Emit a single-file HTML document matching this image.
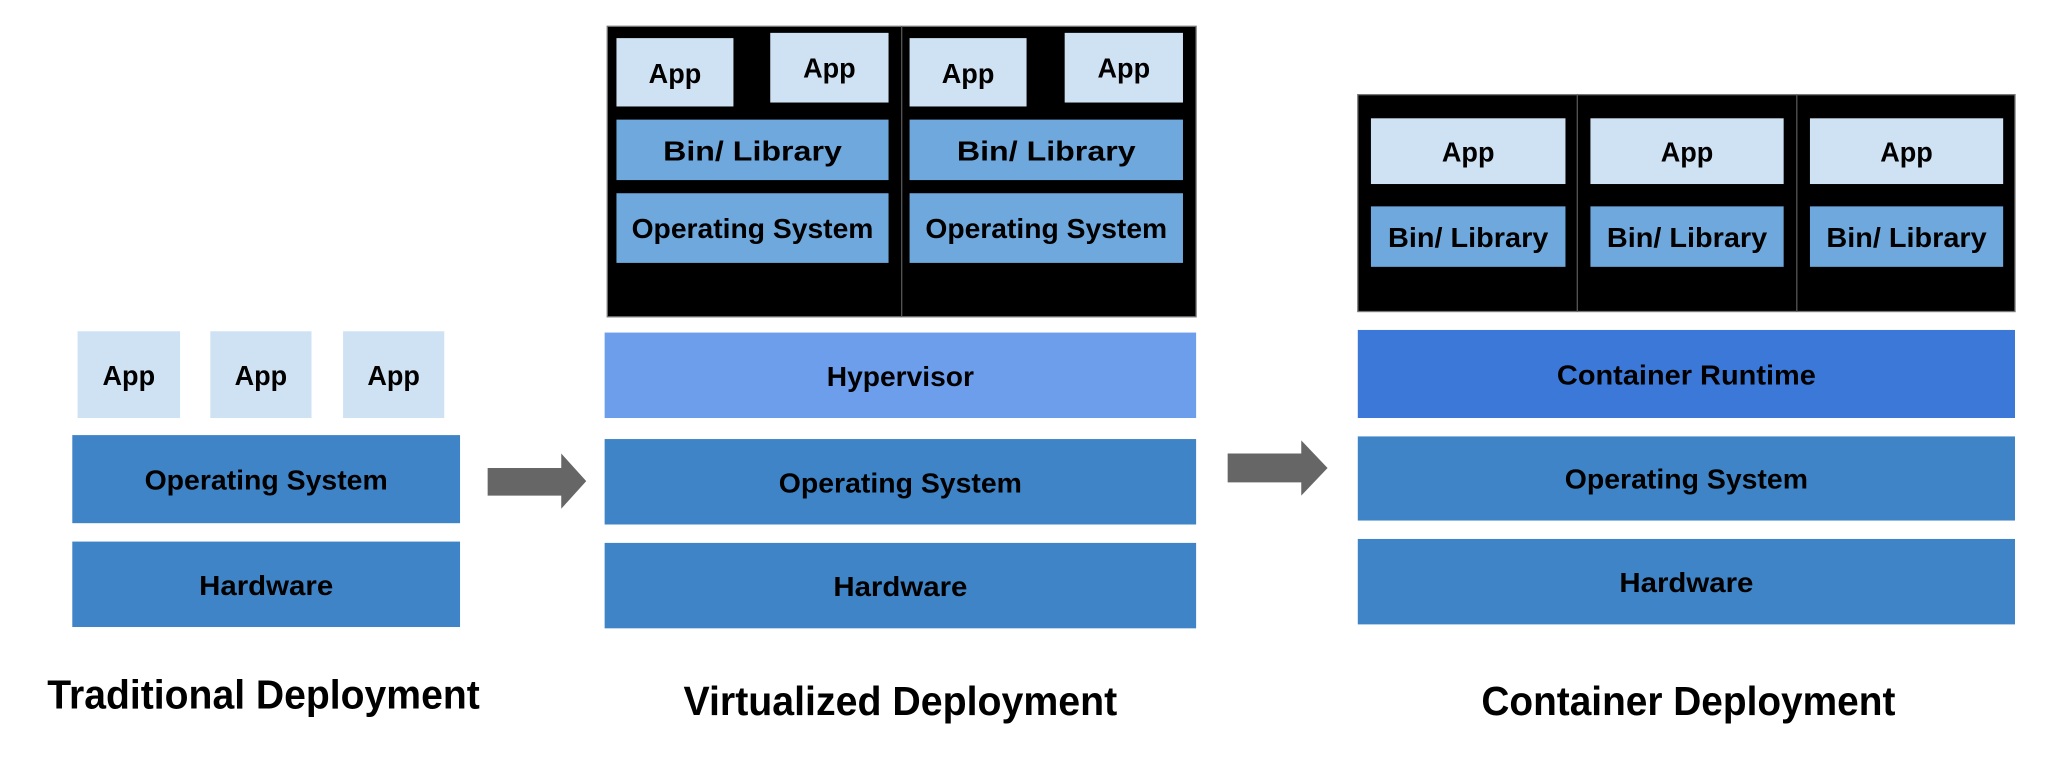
<!DOCTYPE html>
<html><head><meta charset="utf-8"><style>
html,body{margin:0;padding:0;background:#fff;}
svg{display:block;}
text{font-family:"Liberation Sans",sans-serif;font-weight:bold;fill:#000;}
</style></head><body>
<svg width="2061" height="759" viewBox="0 0 1568 577.4" preserveAspectRatio="none" xmlns="http://www.w3.org/2000/svg">
<rect x="0" y="0" width="1568" height="577.4" fill="#fff"/>
<!-- Traditional -->
<rect x="59" y="252" width="78" height="66" fill="#cfe2f3"/>
<rect x="160" y="252" width="77" height="66" fill="#cfe2f3"/>
<rect x="261" y="252" width="77" height="66" fill="#cfe2f3"/>
<text x="98" y="293" font-size="21" text-anchor="middle" textLength="40" lengthAdjust="spacingAndGlyphs">App</text>
<text x="198.5" y="293" font-size="21" text-anchor="middle" textLength="40" lengthAdjust="spacingAndGlyphs">App</text>
<text x="299.5" y="293" font-size="21" text-anchor="middle" textLength="40" lengthAdjust="spacingAndGlyphs">App</text>
<rect x="55" y="331" width="295" height="67" fill="#3f84c6"/>
<text x="202.5" y="372.5" font-size="21" text-anchor="middle" textLength="185" lengthAdjust="spacingAndGlyphs">Operating System</text>
<rect x="55" y="412" width="295" height="65" fill="#3f84c6"/>
<text x="202.5" y="452.5" font-size="21" text-anchor="middle" textLength="102" lengthAdjust="spacingAndGlyphs">Hardware</text>
<text x="200.5" y="539" font-size="31" text-anchor="middle" textLength="329" lengthAdjust="spacingAndGlyphs">Traditional Deployment</text>
<!-- Arrow 1 -->
<polygon points="371,356 427,356 427,345 446,366 427,387 427,377 371,377" fill="#666"/>
<!-- Virtualized -->
<rect x="462" y="20" width="448" height="221" fill="#000" stroke="#777" stroke-width="1"/>
<line x1="686" y1="20" x2="686" y2="241" stroke="#555" stroke-width="1"/>
<rect x="469" y="29" width="89" height="52" fill="#cfe2f3"/>
<rect x="586" y="25" width="90" height="53" fill="#cfe2f3"/>
<rect x="692" y="29" width="89" height="52" fill="#cfe2f3"/>
<rect x="810" y="25" width="90" height="53" fill="#cfe2f3"/>
<text x="513.5" y="63" font-size="21" text-anchor="middle" textLength="40" lengthAdjust="spacingAndGlyphs">App</text>
<text x="631" y="59" font-size="21" text-anchor="middle" textLength="40" lengthAdjust="spacingAndGlyphs">App</text>
<text x="736.5" y="63" font-size="21" text-anchor="middle" textLength="40" lengthAdjust="spacingAndGlyphs">App</text>
<text x="855" y="59" font-size="21" text-anchor="middle" textLength="40" lengthAdjust="spacingAndGlyphs">App</text>
<rect x="469" y="91" width="207" height="46" fill="#6fa8dc"/>
<rect x="692" y="91" width="208" height="46" fill="#6fa8dc"/>
<text x="572.5" y="122" font-size="21" text-anchor="middle" textLength="136" lengthAdjust="spacingAndGlyphs">Bin/ Library</text>
<text x="796" y="122" font-size="21" text-anchor="middle" textLength="136" lengthAdjust="spacingAndGlyphs">Bin/ Library</text>
<rect x="469" y="147" width="207" height="53" fill="#6fa8dc"/>
<rect x="692" y="147" width="208" height="53" fill="#6fa8dc"/>
<text x="572.5" y="181" font-size="21" text-anchor="middle" textLength="184" lengthAdjust="spacingAndGlyphs">Operating System</text>
<text x="796" y="181" font-size="21" text-anchor="middle" textLength="184" lengthAdjust="spacingAndGlyphs">Operating System</text>
<rect x="460" y="253" width="450" height="65" fill="#6d9eeb"/>
<text x="685" y="293.5" font-size="21" text-anchor="middle" textLength="112" lengthAdjust="spacingAndGlyphs">Hypervisor</text>
<rect x="460" y="334" width="450" height="65" fill="#3f84c6"/>
<text x="685" y="374.5" font-size="21" text-anchor="middle" textLength="185" lengthAdjust="spacingAndGlyphs">Operating System</text>
<rect x="460" y="413" width="450" height="65" fill="#3f84c6"/>
<text x="685" y="453.5" font-size="21" text-anchor="middle" textLength="102" lengthAdjust="spacingAndGlyphs">Hardware</text>
<text x="685" y="544" font-size="31" text-anchor="middle" textLength="330" lengthAdjust="spacingAndGlyphs">Virtualized Deployment</text>
<!-- Arrow 2 -->
<polygon points="934,345 990,345 990,335 1010,356 990,377 990,367 934,367" fill="#666"/>
<!-- Container -->
<rect x="1033" y="72" width="500" height="165" fill="#000" stroke="#777" stroke-width="1"/>
<line x1="1200" y1="72" x2="1200" y2="237" stroke="#555" stroke-width="1"/>
<line x1="1367" y1="72" x2="1367" y2="237" stroke="#555" stroke-width="1"/>
<rect x="1043" y="90" width="148" height="50" fill="#cfe2f3"/>
<rect x="1210" y="90" width="147" height="50" fill="#cfe2f3"/>
<rect x="1377" y="90" width="147" height="50" fill="#cfe2f3"/>
<text x="1117" y="123" font-size="21" text-anchor="middle" textLength="40" lengthAdjust="spacingAndGlyphs">App</text>
<text x="1283.5" y="123" font-size="21" text-anchor="middle" textLength="40" lengthAdjust="spacingAndGlyphs">App</text>
<text x="1450.5" y="123" font-size="21" text-anchor="middle" textLength="40" lengthAdjust="spacingAndGlyphs">App</text>
<rect x="1043" y="157" width="148" height="46" fill="#6fa8dc"/>
<rect x="1210" y="157" width="147" height="46" fill="#6fa8dc"/>
<rect x="1377" y="157" width="147" height="46" fill="#6fa8dc"/>
<text x="1117" y="188" font-size="21" text-anchor="middle" textLength="122" lengthAdjust="spacingAndGlyphs">Bin/ Library</text>
<text x="1283.5" y="188" font-size="21" text-anchor="middle" textLength="122" lengthAdjust="spacingAndGlyphs">Bin/ Library</text>
<text x="1450.5" y="188" font-size="21" text-anchor="middle" textLength="122" lengthAdjust="spacingAndGlyphs">Bin/ Library</text>
<rect x="1033" y="251" width="500" height="67" fill="#3c78d8"/>
<text x="1283" y="292.5" font-size="21" text-anchor="middle" textLength="197" lengthAdjust="spacingAndGlyphs">Container Runtime</text>
<rect x="1033" y="332" width="500" height="64" fill="#3f84c6"/>
<text x="1283" y="371.5" font-size="21" text-anchor="middle" textLength="185" lengthAdjust="spacingAndGlyphs">Operating System</text>
<rect x="1033" y="410" width="500" height="65" fill="#3f84c6"/>
<text x="1283" y="450.5" font-size="21" text-anchor="middle" textLength="102" lengthAdjust="spacingAndGlyphs">Hardware</text>
<text x="1284.5" y="544" font-size="31" text-anchor="middle" textLength="315" lengthAdjust="spacingAndGlyphs">Container Deployment</text>
</svg>
</body></html>
